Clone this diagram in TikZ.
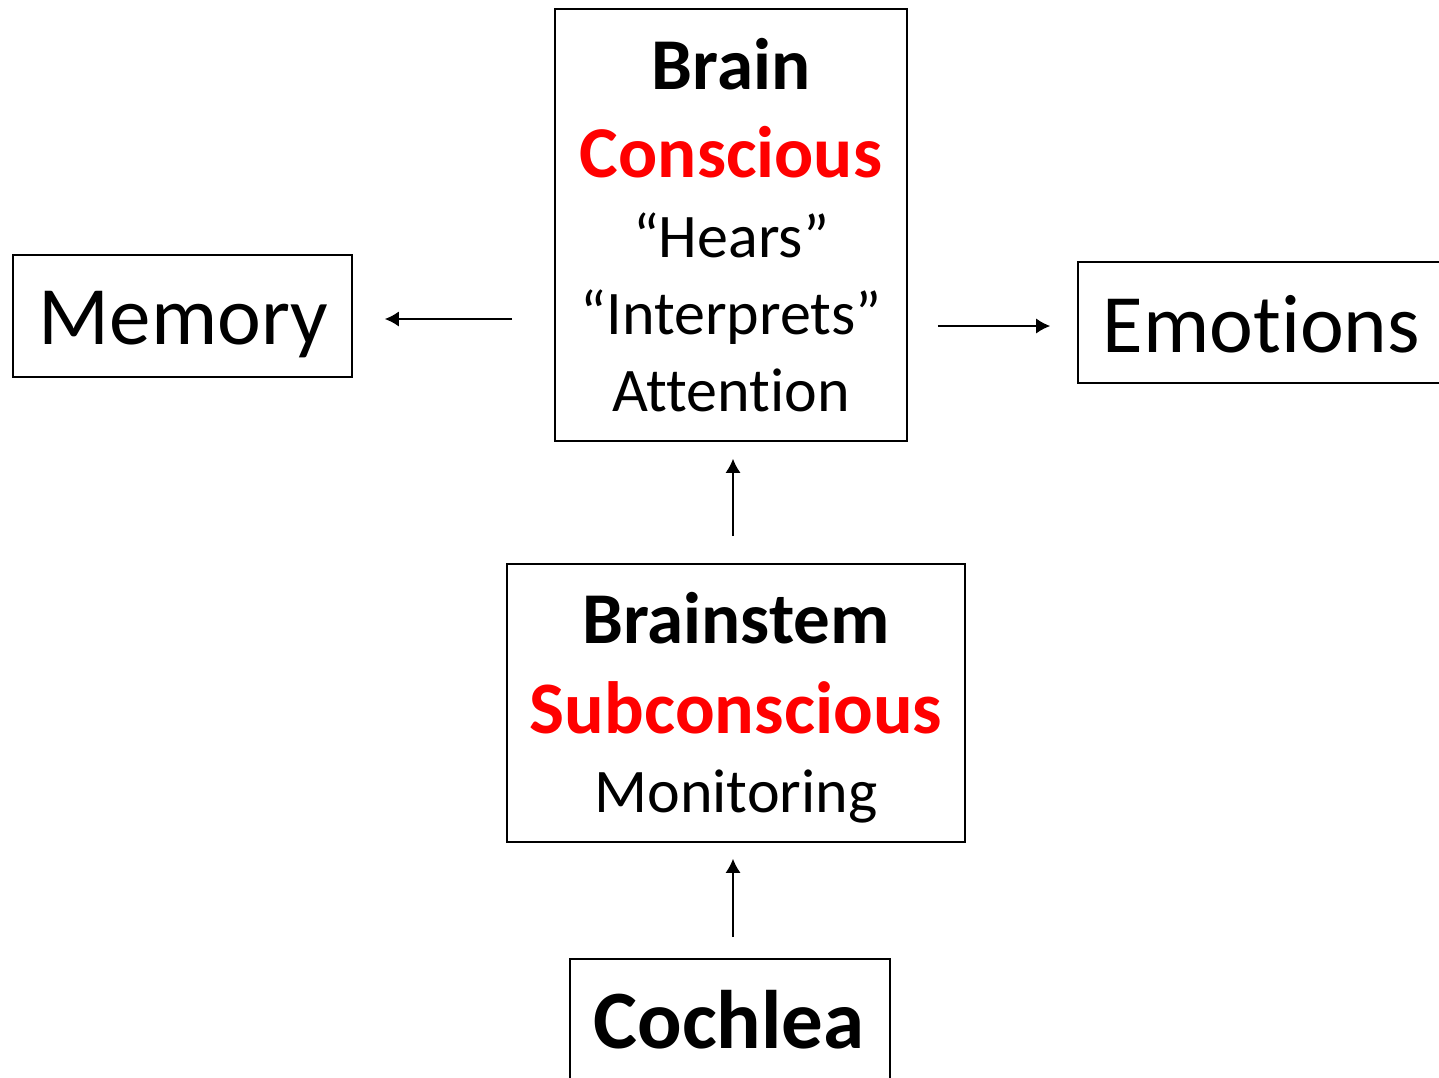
\documentclass[tikz,border=0pt]{standalone}
\usepackage{fontspec}
\setmainfont{Carlito}[Ligatures={NoCommon}]
\usetikzlibrary{arrows.meta}
\definecolor{hot}{RGB}{255,0,0}
\tikzset{
  box/.style={draw=black, line width=1.6pt, rectangle, inner sep=0pt, fill=none},
  txt/.style={anchor=base, inner sep=0pt, text=black},
  arr/.style={line width=1.5pt, -{Latex[length=14pt,width=15pt]}},
}
\newcommand{\fs}[1]{\fontsize{#1}{#1}\selectfont}
\begin{document}
\begin{tikzpicture}[x=1pt,y=-1pt]
\useasboundingbox (0,0) rectangle (1439,1077);
% boxes
\node[box, minimum width=352pt, minimum height=432pt] (brain) at (731,225) {};
\node[box, minimum width=339pt, minimum height=122pt] (memory) at (182.5,316) {};
\node[box, minimum width=367pt, minimum height=121pt] (emotions) at (1261.5,322.5) {};
\node[box, minimum width=458pt, minimum height=278pt] (brainstem) at (736,703) {};
\node[box, minimum width=320pt, minimum height=140pt] (cochlea) at (730,1029) {};
% texts
\node[txt, font=\fs{73}\bfseries] (tBrain) at (731,89) {Brain};
\node[txt, font=\fs{73}\bfseries, text=hot] (tConscious) at (731,177) {Conscious};
\node[txt, font=\fs{62}] (tHears) at (731,257) {“Hears”};
\node[txt, font=\fs{62}] (tInterp) at (731,334) {“Interprets”};
\node[txt, font=\fs{62}] (tAttn) at (731,411) {Attention};
\node[txt, font=\fs{83}] (tMemory) at (183.5,344) {Memory};
\node[txt, font=\fs{83}] (tEmotions) at (1261.5,352) {Emotions};
\node[txt, font=\fs{73}\bfseries] (tBrainstem) at (736,643) {Brainstem};
\node[txt, font=\fs{74}\bfseries, text=hot] (tSub) at (736,733) {Subconscious};
\node[txt, font=\fs{62}] (tMon) at (736,812) {Monitoring};
\node[txt, font=\fs{83}\bfseries] (tCochlea) at (729,1048) {Cochlea};
% connectors
\draw[arr, shorten <=42pt, shorten >=32pt] (brain.west |- 0,319) -- (memory.east |- 0,319);
\draw[arr, shorten <=30pt, shorten >=27pt] (brain.east |- 0,326) -- (emotions.west |- 0,326);
\draw[arr, shorten <=27pt, shorten >=17pt] (brainstem.north -| 733,0) -- (brain.south -| 733,0);
\draw[arr, shorten <=21pt, shorten >=16pt] (cochlea.north -| 733,0) -- (brainstem.south -| 733,0);
\end{tikzpicture}
\end{document}
